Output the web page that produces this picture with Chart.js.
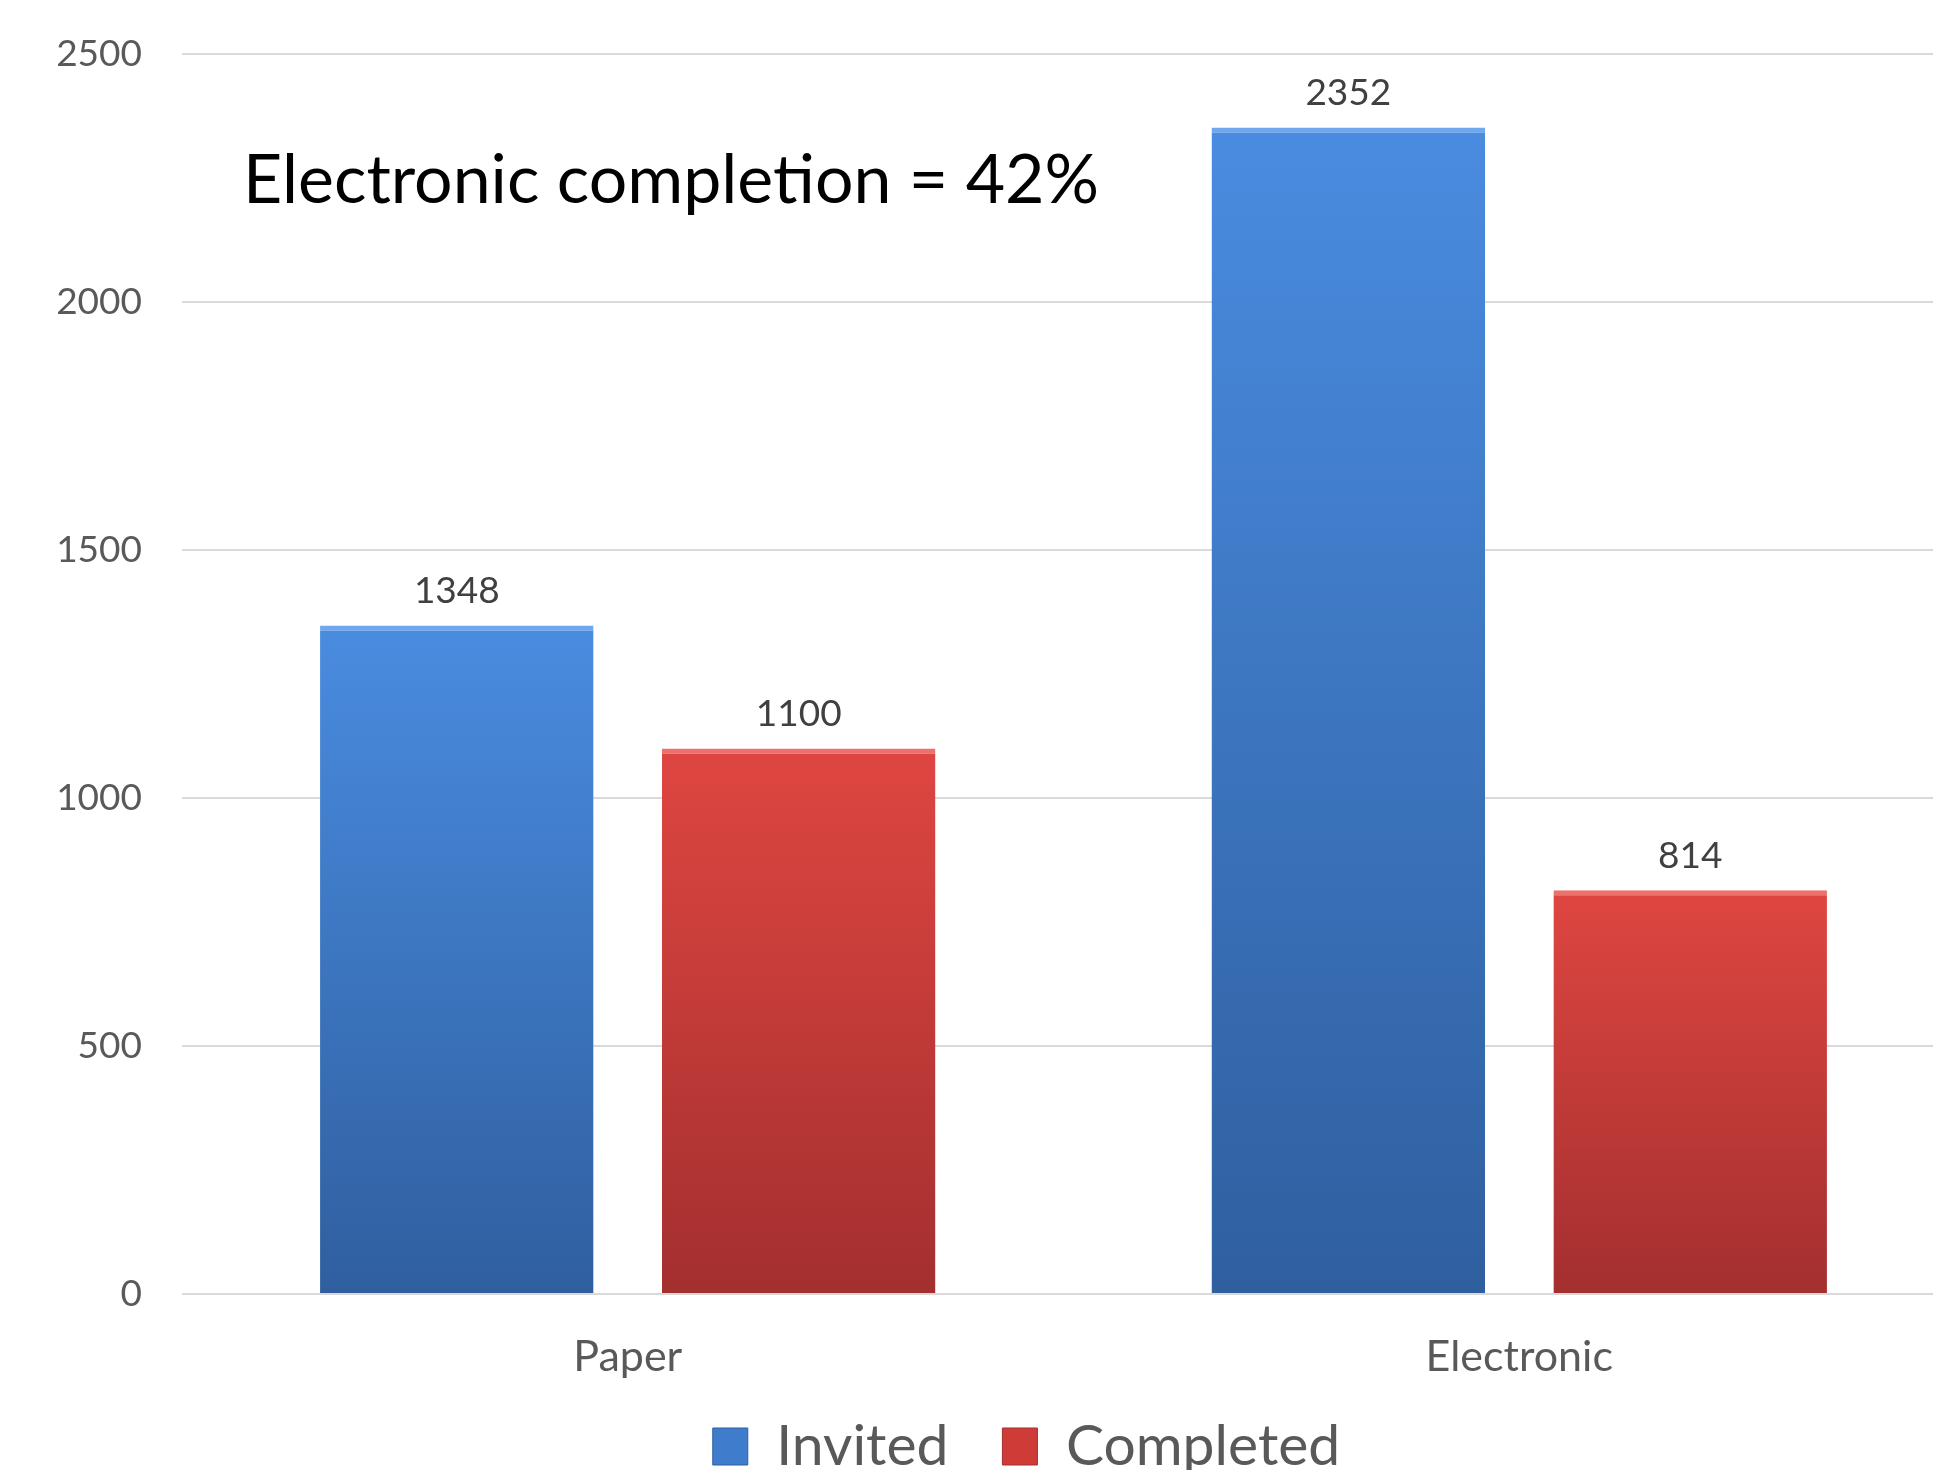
<!DOCTYPE html>
<html>
<head>
<meta charset="utf-8">
<script src="https://cdn.jsdelivr.net/npm/chart.js@4.4.1/dist/chart.umd.min.js"></script>
<style>
  html, body { margin: 0; padding: 0; background: #fff; overflow: hidden; width: 1933px; height: 1470px; }
  #wrap { position: absolute; left: 0; top: 0; width: 2052px; height: 1515px; }
</style>
</head>
<body>
<div id="wrap"><canvas id="c" width="2052" height="1515"></canvas></div>
<script>
const categories = ["Paper", "Electronic"];
const invitedValues = [1348, 2352];
const completedValues = [1100, 814];
const yTicks = [0, 500, 1000, 1500, 2000, 2500];
const annotationText = "Electronic completion = 42%";

const FONT = "Lato, 'Open Sans', sans-serif";

function barGradient(ctx, topColor, bottomColor) {
  const chart = ctx.chart;
  const y = chart.scales && chart.scales.y;
  if (!y || ctx.raw === undefined) return topColor;
  const top = y.getPixelForValue(ctx.raw);
  const bottom = y.getPixelForValue(0);
  const g = chart.ctx.createLinearGradient(0, top, 0, bottom);
  g.addColorStop(0, topColor);
  g.addColorStop(1, bottomColor);
  return g;
}

const valueLabels = {
  id: 'valueLabels',
  afterDatasetsDraw(chart) {
    const ctx = chart.ctx;
    ctx.save();
    ctx.font = "37px " + FONT;
    ctx.fillStyle = "#404040";
    ctx.textAlign = "center";
    ctx.textBaseline = "alphabetic";
    chart.data.datasets.forEach((ds, di) => {
      chart.getDatasetMeta(di).data.forEach((bar, i) => {
        ctx.fillText(String(ds.data[i]), bar.x, bar.y - 22);
      });
    });
    ctx.restore();
  }
};

const annotation = {
  id: 'annotation',
  afterDraw(chart) {
    const ctx = chart.ctx;
    ctx.save();
    ctx.font = "68px " + FONT;
    ctx.fillStyle = "#000000";
    ctx.textAlign = "left";
    ctx.textBaseline = "alphabetic";
    ctx.fillText(annotationText, 243, 203);
    ctx.restore();
  }
};

// nudge the legend box into place (it is clipped by the page bottom as in the reference)
const legendNudge = {
  id: 'legendNudge',
  afterLayout(chart) {
    const lg = chart.legend;
    if (!lg) return;
    lg.left += 24; lg.right += 24;
    lg.top -= 30; lg.bottom -= 30;
  }
};

const chart = new Chart(document.getElementById('c'), {
  type: 'bar',
  data: {
    labels: categories,
    datasets: [
      {
        label: "Invited",
        data: invitedValues,
        backgroundColor: (c) => barGradient(c, '#4A8CE0', '#2F5F9F'),
        borderColor: '#6FA8EE',
        borderWidth: { top: 5, left: 0, right: 0, bottom: 0 },
        borderSkipped: 'bottom'
      },
      {
        label: "Completed",
        data: completedValues,
        backgroundColor: (c) => barGradient(c, '#DF4641', '#A32F2F'),
        borderColor: '#EC716C',
        borderWidth: { top: 5, left: 0, right: 0, bottom: 0 },
        borderSkipped: 'bottom'
      }
    ]
  },
  options: {
    responsive: false,
    animation: false,
    devicePixelRatio: 1,
    categoryPercentage: 0.767,
    barPercentage: 0.80,
    layout: { padding: { top: 0, right: 87, left: 40, bottom: 0 } },
    plugins: {
      legend: {
        position: 'bottom',
        labels: {
          boxWidth: 35,
          boxHeight: 37,
          padding: 54,
          color: '#595959',
          font: { family: FONT, size: 57 },
          generateLabels(chart) {
            return chart.data.datasets.map((ds, i) => ({
              text: ds.label,
              fillStyle: i === 0 ? '#3F7CCB' : '#CF3C38',
              strokeStyle: i === 0 ? '#2F5F9F' : '#A32F2F',
              fontColor: '#595959',
              lineWidth: 1,
              datasetIndex: i,
              hidden: false
            }));
          }
        }
      },
      tooltip: { enabled: false }
    },
    scales: {
      x: {
        grid: { display: false, drawTicks: false },
        border: { display: false },
        ticks: { color: '#595959', font: { family: FONT, size: 43 }, padding: 37 },
        afterFit(scale) { scale.height = 100; }
      },
      y: {
        min: 0,
        max: 2500,
        afterBuildTicks(scale) { scale.ticks = yTicks.map(v => ({ value: v })); },
        grid: { color: '#D9D9D9', lineWidth: 2, drawTicks: false },
        border: { display: false },
        ticks: { color: '#595959', font: { family: FONT, size: 37, lineHeight: 0.76 }, padding: 40,
                 callback: (v) => String(v) },
        afterFit(scale) { scale.width = 142; }
      }
    }
  },
  plugins: [valueLabels, annotation, legendNudge]
});
</script>
</body>
</html>
